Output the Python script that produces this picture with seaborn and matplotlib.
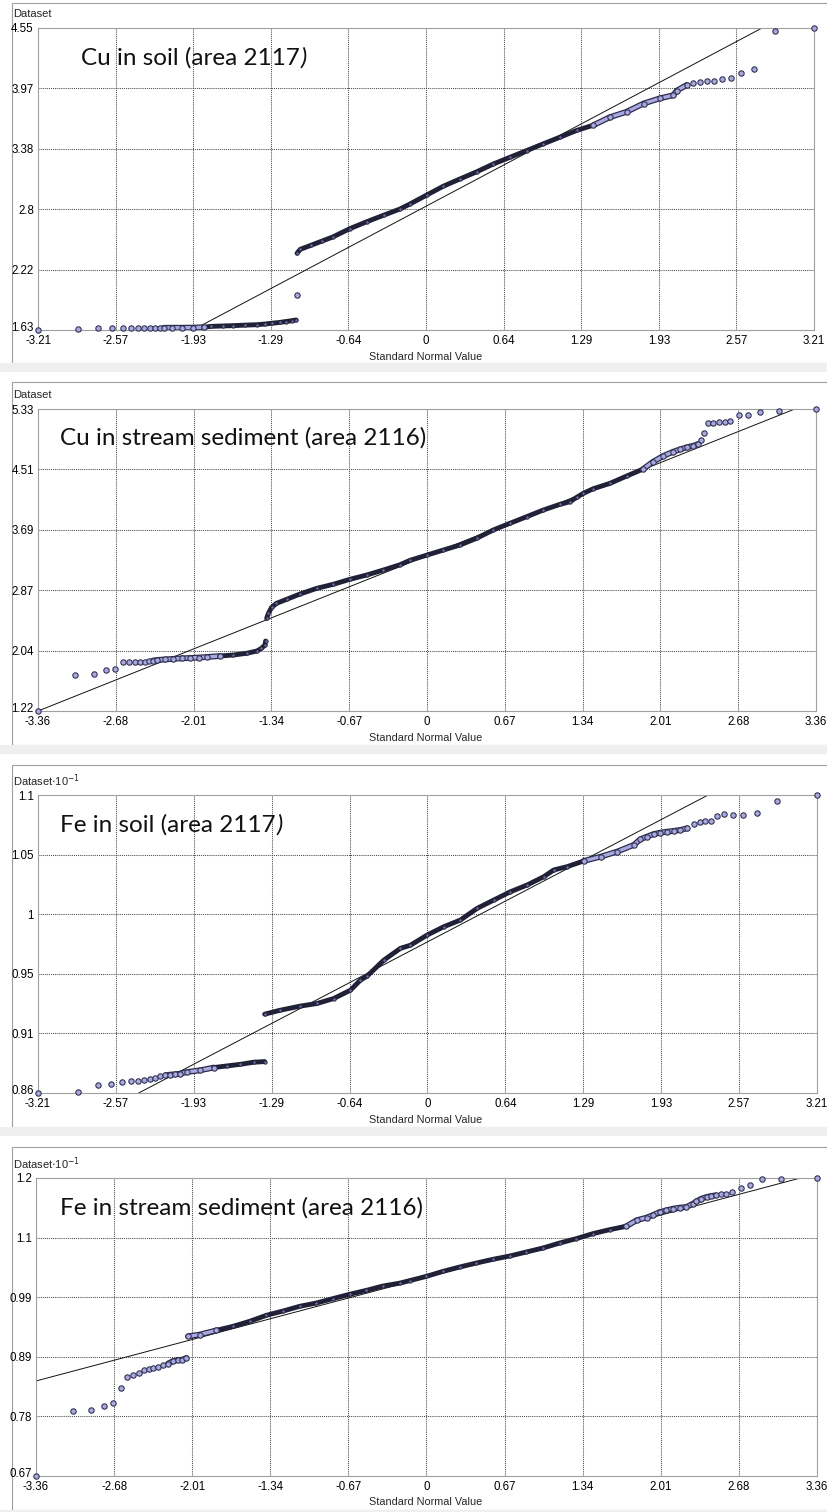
import numpy as np
import pandas as pd
import matplotlib
matplotlib.use("Agg")
import matplotlib.pyplot as plt
import matplotlib.patheffects as pe
from matplotlib.patches import Rectangle
from matplotlib.transforms import ScaledTranslation
import seaborn as sns

# ---------------------------------------------------------------
# values
# run: 0 = single point, >0 = a stretch of overlapping points
# ---------------------------------------------------------------
cu_soil_q = [-3.21, -2.88, -2.71, -2.60, -2.51, -2.44, -2.385, -2.33, -2.28, -2.24, -2.20,
             -2.17, -2.10, -2.02, -1.93, -1.84,
             -1.84, -1.78, -1.68, -1.60, -1.50, -1.40, -1.33, -1.27, -1.21, -1.16, -1.11, -1.075,
             -1.07,
             -1.067, -1.04, -0.95, -0.86, -0.77, -0.63, -0.49, -0.35, -0.215, -0.13, 0.006, 0.143,
             0.28, 0.42, 0.557, 0.695, 0.833, 0.97, 1.11, 1.247, 1.384,
             1.384, 1.52, 1.66, 1.80, 1.936, 2.046, 2.074, 2.157,
             2.212, 2.267, 2.322, 2.383, 2.446, 2.52, 2.606, 2.716, 2.888, 3.21]
cu_soil_v = [1.630, 1.637, 1.646, 1.646, 1.646, 1.646, 1.647, 1.647, 1.648, 1.650, 1.651,
             1.651, 1.652, 1.652, 1.653, 1.656,
             1.656, 1.665, 1.669, 1.672, 1.677, 1.681, 1.688, 1.696, 1.703, 1.712, 1.720, 1.727,
             1.966,
             2.372, 2.41, 2.45, 2.49, 2.53, 2.61, 2.677, 2.74, 2.80, 2.85, 2.935, 3.02,
             3.09, 3.16, 3.235, 3.30, 3.365, 3.43, 3.495, 3.56, 3.61,
             3.61, 3.687, 3.74, 3.82, 3.87, 3.90, 3.944, 3.999,
             4.022, 4.028, 4.035, 4.038, 4.055, 4.064, 4.118, 4.154, 4.522, 4.55]
cu_soil_run = [0] * 11 + [1] * 5 + [2] * 12 + [0] + [3] * 21 + [4] * 8 + [0] * 10
cu_soil_ref_q = [-1.93, 2.78]
cu_soil_ref_v = [1.63, 4.55]

cu_sed_q = [-3.36, -3.04, -2.88, -2.775, -2.695, -2.623, -2.57, -2.52, -2.48, -2.44, -2.40,
            -2.37, -2.335, -2.26, -2.19, -2.12, -2.047, -1.97, -1.903, -1.79,
            -1.79, -1.673, -1.558, -1.47, -1.43, -1.40, -1.394,
            -1.385, -1.37, -1.342, -1.30, -1.212, -1.097, -0.953, -0.81, -0.666, -0.522,
            -0.378, -0.234, -0.148, 0.0, 0.14, 0.284, 0.428, 0.572, 0.716, 0.86, 1.004,
            1.148, 1.234, 1.292, 1.35, 1.435, 1.58, 1.724, 1.867,
            1.867, 1.953, 2.04, 2.126, 2.184, 2.242, 2.30, 2.342,
            2.363, 2.39, 2.423, 2.47, 2.523, 2.573, 2.62, 2.693, 2.774, 2.88, 3.04, 3.36]
cu_sed_v = [1.22, 1.706, 1.72, 1.774, 1.787, 1.883, 1.883, 1.883, 1.89, 1.893, 1.897,
            1.905, 1.914, 1.922, 1.930, 1.937, 1.941, 1.948, 1.955, 1.968,
            1.968, 1.982, 2.005, 2.036, 2.073, 2.118, 2.172,
            2.481, 2.549, 2.631, 2.685, 2.74, 2.812, 2.889, 2.944, 3.012, 3.07,
            3.138, 3.21, 3.27, 3.342, 3.41, 3.478, 3.57, 3.683, 3.774, 3.864, 3.955,
            4.032, 4.068, 4.127, 4.182, 4.244, 4.318, 4.417, 4.513,
            4.513, 4.612, 4.69, 4.748, 4.78, 4.808, 4.83, 4.853,
            4.907, 4.998, 5.134, 5.143, 5.148, 5.157, 5.17, 5.247, 5.243, 5.292, 5.306, 5.33]
cu_sed_run = [0] * 11 + [1] * 9 + [2] * 7 + [3] * 29 + [4] * 8 + [0] * 12
cu_sed_ref_q = [-3.36, 3.177]
cu_sed_ref_v = [1.22, 5.33]

fe_soil_q = [-3.21, -2.883, -2.715, -2.606, -2.518, -2.443, -2.389, -2.334, -2.284, -2.243, -2.202,
             -2.16, -2.12, -2.078, -2.037, -1.982, -1.872, -1.762,
             -1.762, -1.652, -1.542, -1.432, -1.342,
             -1.342, -1.212, -1.048, -0.91, -0.773, -0.635, -0.553, -0.498, -0.36, -0.223, -0.141,
             -0.003, 0.134, 0.271, 0.409, 0.546, 0.684, 0.821, 0.958, 1.04, 1.151, 1.288,
             1.288, 1.426, 1.563, 1.70, 1.755, 1.81, 1.865, 1.92, 1.975, 2.03, 2.085, 2.14,
             2.195, 2.244, 2.291, 2.338, 2.388, 2.442, 2.52, 2.602, 2.712, 2.882, 3.21]
fe_soil_v = [0.86, 0.8606, 0.8662, 0.8673, 0.8686, 0.8694, 0.8697, 0.8702, 0.8716, 0.8724, 0.8737,
             0.8743, 0.8748, 0.8751, 0.8756, 0.8769, 0.8783, 0.8805,
             0.8805, 0.8818, 0.8831, 0.8848, 0.8853,
             0.9235, 0.9267, 0.930, 0.9321, 0.9361, 0.9428, 0.9509, 0.9541, 0.967, 0.9765, 0.979,
             0.9872, 0.9939, 0.9993, 1.0087, 1.0154, 1.0221, 1.0275, 1.0342, 1.0396, 1.0423, 1.0469,
             1.0469, 1.0503, 1.0544, 1.0598, 1.0644, 1.0665, 1.0686, 1.0697, 1.0705, 1.0711, 1.0719, 1.0732,
             1.0764, 1.0786, 1.0791, 1.0791, 1.0832, 1.0845, 1.0842, 1.0842, 1.0853, 1.0955, 1.10]
fe_soil_run = [0] * 11 + [1] * 7 + [2] * 5 + [3] * 22 + [4] * 12 + [0] * 11
fe_soil_ref_q = [-2.38, 2.313]
fe_soil_ref_v = [0.86, 1.10]

fe_sed_q = [-3.36, -3.042, -2.883, -2.777, -2.697, -2.625, -2.573, -2.525, -2.476, -2.43, -2.39,
            -2.353, -2.31, -2.267,
            -2.224, -2.181, -2.138, -2.10, -2.066,
            -2.052, -1.951, -1.807,
            -1.807, -1.665, -1.521, -1.377, -1.234, -1.091, -0.947, -0.804, -0.66, -0.517, -0.374,
            -0.23, -0.144, 0.0, 0.143, 0.286, 0.43, 0.573, 0.717, 0.86, 1.003, 1.147, 1.29, 1.433,
            1.577, 1.72,
            1.72, 1.807, 1.893, 1.95, 2.007, 2.065, 2.122, 2.18, 2.237, 2.294, 2.323, 2.366, 2.41,
            2.452, 2.49,
            2.53, 2.575, 2.627, 2.702, 2.782, 2.885, 3.046, 3.36]
fe_sed_v = [0.67, 0.785, 0.7868, 0.794, 0.7993, 0.8272, 0.8468, 0.8503, 0.8539, 0.8592, 0.8598,
            0.8628, 0.8646, 0.8669,
            0.8699, 0.8745, 0.8763, 0.877, 0.8799,
            0.9184, 0.9215, 0.9291,
            0.9291, 0.9362, 0.9451, 0.9558, 0.9634, 0.9718, 0.9777, 0.9855, 0.9932, 1.0002, 1.0079,
            1.013, 1.0175, 1.0251, 1.034, 1.0417, 1.0488, 1.0554, 1.0613, 1.0684, 1.0755, 1.0844, 1.0922, 1.1011,
            1.1082, 1.1141,
            1.1141, 1.1248, 1.1295, 1.1342, 1.1395, 1.1425, 1.1455, 1.1473, 1.1484, 1.1544, 1.1585, 1.1633, 1.1662,
            1.168, 1.1692,
            1.171, 1.1722, 1.1751, 1.1822, 1.187, 1.1989, 1.1989, 1.2]
fe_sed_run = [0] * 14 + [1] * 5 + [2] * 3 + [3] * 26 + [4] * 15 + [0] * 8
fe_sed_ref_q = [-3.36, 3.218]
fe_sed_ref_v = [0.839, 1.2]

soil_xticks = ["-3.21", "-2.57", "-1.93", "-1.29", "-0.64", "0", "0.64", "1.29", "1.93", "2.57", "3.21"]
sed_xticks = ["-3.36", "-2.68", "-2.01", "-1.34", "-0.67", "0", "0.67", "1.34", "2.01", "2.68", "3.36"]
cu_soil_yticks = ["1.63", "2.22", "2.8", "3.38", "3.97", "4.55"]
cu_sed_yticks = ["1.22", "2.04", "2.87", "3.69", "4.51", "5.33"]
fe_soil_yticks = ["0.86", "0.91", "0.95", "1", "1.05", "1.1"]
fe_sed_yticks = ["0.67", "0.78", "0.89", "0.99", "1.1", "1.2"]

# ---------------------------------------------------------------
W, H = 828, 1512
sns.set_style("white")
plt.rcParams["font.family"] = ["Liberation Sans", "DejaVu Sans"]

fig = plt.figure(figsize=(W / 100, H / 100), dpi=100)


def fx(px):
    return px / W


def fy(py):
    return 1 - py / H


panels = [
    dict(title="Cu in soil (area 2117", paren_italic=True,
         q=cu_soil_q, v=cu_soil_v, run=cu_soil_run, dense={2, 3},
         ref_q=cu_soil_ref_q, ref_v=cu_soil_ref_v,
         xt=soil_xticks, yt=cu_soil_yticks, ylab="Dataset",
         frame=(3, 363), box=(38, 814, 28, 330), title_xy=(81, 58), ylab_y=14, xlab_y=357),
    dict(title="Cu in stream sediment (area 2116)", paren_italic=False,
         q=cu_sed_q, v=cu_sed_v, run=cu_sed_run, dense={2, 3},
         ref_q=cu_sed_ref_q, ref_v=cu_sed_ref_v,
         xt=sed_xticks, yt=cu_sed_yticks, ylab="Dataset",
         frame=(382, 745), box=(38, 816, 409, 711), title_xy=(60, 438), ylab_y=395, xlab_y=738),
    dict(title="Fe in soil (area 2117", paren_italic=True,
         q=fe_soil_q, v=fe_soil_v, run=fe_soil_run, dense={2, 3},
         ref_q=fe_soil_ref_q, ref_v=fe_soil_ref_v,
         xt=soil_xticks, yt=fe_soil_yticks, ylab="Dataset$\\cdot$10$^{-1}$",
         frame=(765, 1127), box=(38, 817, 795, 1093), title_xy=(60, 825), ylab_y=781, xlab_y=1120),
    dict(title="Fe in stream sediment (area 2116)", paren_italic=False,
         q=fe_sed_q, v=fe_sed_v, run=fe_sed_run, dense={3},
         ref_q=fe_sed_ref_q, ref_v=fe_sed_ref_v,
         xt=sed_xticks, yt=fe_sed_yticks, ylab="Dataset$\\cdot$10$^{-1}$",
         frame=(1147, 1510), box=(36, 817, 1178, 1476), title_xy=(60, 1208), ylab_y=1164, xlab_y=1502),
]

fill = "#a9a9e2"
edge = "#2b2b4a"
lift = ScaledTranslation(0, 3.5 / 100, fig.dpi_scale_trans)

for p in panels:
    top, bot = p["frame"]
    # window frame + grey strip underneath
    fig.patches.append(Rectangle((fx(12), fy(bot)), fx(W - 12), (bot - top) / H,
                                 transform=fig.transFigure, facecolor="white",
                                 edgecolor="#a0a0a0", linewidth=0.8, zorder=-10))
    fig.patches.append(Rectangle((fx(0), fy(bot + 9)), 1, 9 / H, transform=fig.transFigure,
                                 facecolor="#efefef", edgecolor="none", zorder=-10))

    l, r, t, b = p["box"]
    ax = fig.add_axes([fx(l), fy(b), (r - l) / W, (b - t) / H])
    ax.set_facecolor("white")
    df = pd.DataFrame({"q": p["q"], "v": p["v"], "run": p["run"]})

    xlo, xhi = float(p["xt"][0]), float(p["xt"][-1])
    ylo, yhi = float(p["yt"][0]), float(p["yt"][-1])

    # fitted reference line
    sns.lineplot(x=p["ref_q"], y=p["ref_v"], ax=ax, color="#111111", linewidth=0.7,
                 sort=False, estimator=None, zorder=2)

    # stretches of overlapping points
    for rid, seg in df[df["run"] > 0].groupby("run"):
        if rid in p["dense"]:
            sns.lineplot(data=seg, x="q", y="v", ax=ax, sort=False, estimator=None,
                         color="#202036", linewidth=3.5, zorder=2.5,
                         solid_capstyle="round", solid_joinstyle="round")
        else:
            sns.lineplot(data=seg, x="q", y="v", ax=ax, sort=False, estimator=None,
                         color=fill, linewidth=2.4, zorder=2.5,
                         solid_capstyle="round", solid_joinstyle="round",
                         path_effects=[pe.Stroke(linewidth=4.2, foreground=edge), pe.Normal()])

    # flecks inside the dense bands
    dense_pts = df[df["run"].isin(p["dense"])]
    sns.scatterplot(data=dense_pts, x="q", y="v", ax=ax, marker="o", s=6, color="#6c6ca4",
                    edgecolor="#202036", linewidth=0.6, zorder=2.7)

    pts = df[~df["run"].isin(p["dense"])]
    sns.scatterplot(data=pts, x="q", y="v", ax=ax, marker="o", s=15, color=fill,
                    edgecolor=edge, linewidth=0.75, zorder=3, clip_on=False)

    ax.set_xlim(xlo, xhi)
    ax.set_ylim(ylo, yhi)
    ax.set_xticks(np.linspace(xlo, xhi, len(p["xt"])), p["xt"])
    ax.set_yticks(np.linspace(ylo, yhi, len(p["yt"])), p["yt"])
    ax.tick_params(length=0, labelsize=8.3, pad=3, colors="#000000")
    ax.tick_params(axis="x", pad=3.5)
    ax.grid(True, color="#4a4a4a", linestyle=(0, (1, 1)), linewidth=0.75, zorder=0)
    ax.set_axisbelow(True)
    for g in ax.get_xgridlines()[::len(p["xt"]) - 1] + ax.get_ygridlines()[::len(p["yt"]) - 1]:
        g.set_visible(False)
    for s in ax.spines.values():
        s.set_visible(True)
        s.set_color("#a0a0a0")
        s.set_linewidth(0.8)
    ax.set_xlabel("")
    ax.set_ylabel("")
    # lowest y label sits a touch above the corner, as in the original
    first = ax.get_yticklabels()[0]
    first.set_transform(first.get_transform() + lift)

    # texts
    tx, ty = p["title_xy"]
    t_art = ax.text(fx(tx), fy(ty), p["title"], transform=fig.transFigure, fontsize=17.5,
                    family=["Lato", "DejaVu Sans"], ha="left", va="center", color="#111111",
                    zorder=5)
    if p["paren_italic"]:
        ax.annotate(")", xy=(1, 0), xycoords=t_art, xytext=(0.5, 0), textcoords="offset points",
                    ha="left", va="bottom", fontsize=17.5, style="italic",
                    family=["Lato", "DejaVu Sans"], color="#111111", annotation_clip=False)
    fig.text(fx(13), fy(p["ylab_y"]), p["ylab"], fontsize=8, ha="left", va="center")
    fig.text(fx(426), fy(p["xlab_y"]), "Standard Normal Value", fontsize=7.8,
             ha="center", va="center")

fig.savefig("out.png", dpi=100, facecolor="white")
